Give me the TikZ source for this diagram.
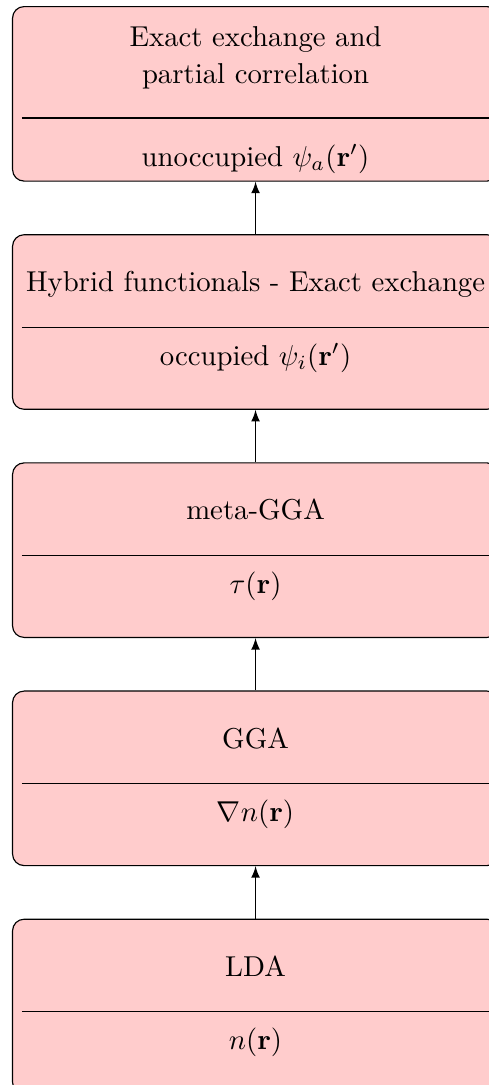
\documentclass[tikz,border=0pt]{standalone}
\usepackage{amsmath}
\usepackage{tikz}
\usetikzlibrary{positioning}

\tikzset{
  funcbox/.style={draw, rounded corners, fill=red!20, minimum width=169.04pt, minimum height=60.7pt, inner sep=0pt},
  headtxt/.style={anchor=base, inner sep=0pt},
  subtxt/.style={anchor=base, inner sep=0pt}
}

\begin{document}
\begin{tikzpicture}[node distance=18.26pt,>=latex]
\useasboundingbox (-4.17pt,2.09pt) rectangle (165.57pt,-375.3pt);

\node[funcbox, anchor=north west] (exx)  at (0,0)  {};
\node[funcbox]                    (hyb)  [below=of exx]  {};
\node[funcbox]                    (mgga) [below=of hyb]  {};
\node[funcbox]                    (gga)  [below=of mgga] {};
\node[funcbox]                    (lda)  [below=of gga]  {};

% upper parts
\node[headtxt] (exxa)  at ([yshift=-14.16pt]exx.north)  {Exact exchange and};
\node[headtxt] (exxb)  at ([yshift=-26.89pt]exx.north)  {partial correlation};
\node[headtxt] (hybt)  at ([yshift=-20pt]hyb.north)  {Hybrid functionals - Exact exchange};
\node[headtxt] (mggat) at ([yshift=-20pt]mgga.north) {meta-GGA};
\node[headtxt] (ggat)  at ([yshift=-20pt]gga.north)  {GGA};
\node[headtxt] (ldat)  at ([yshift=-20pt]lda.north)  {LDA};

% dividers
\draw ([xshift=3.48pt,yshift=-38.96pt]exx.north west) -- ([xshift=-3.48pt,yshift=-38.96pt]exx.north east);
\foreach \b in {hyb,mgga,gga,lda}
  \draw ([xshift=3.48pt,yshift=-32.35pt]\b.north west) -- ([xshift=-3.48pt,yshift=-32.35pt]\b.north east);

% lower parts
\node[subtxt] (exxv)  at ([yshift=-55.65pt]exx.north)  {unoccupied $\psi_a(\mathbf{r}')$};
\node[subtxt] (hybv)  at ([yshift=-45.57pt]hyb.north)  {occupied $\psi_i(\mathbf{r}')$};
\node[subtxt] (mggav) at ([yshift=-45.57pt]mgga.north) {$\tau(\mathbf{r})$};
\node[subtxt] (ggav)  at ([yshift=-45.57pt]gga.north)  {$\nabla n(\mathbf{r})$};
\node[subtxt] (ldav)  at ([yshift=-45.57pt]lda.north)  {$n(\mathbf{r})$};

\path [->]
  (lda)  edge (gga)
  (gga)  edge (mgga)
  (mgga) edge (hyb)
  (hyb)  edge (exx);

\end{tikzpicture}
\end{document}
